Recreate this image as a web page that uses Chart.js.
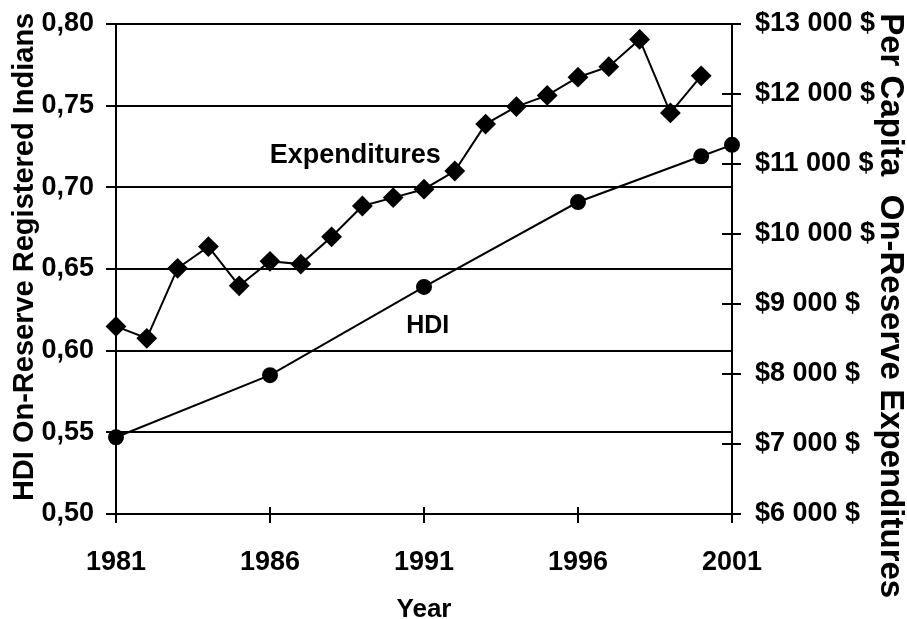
<!DOCTYPE html>
<html>
<head>
<meta charset="utf-8">
<script src="https://cdn.jsdelivr.net/npm/chart.js@4.4.1/dist/chart.umd.min.js"></script>
<style>
  body { margin: 0; background: #fff; }
</style>
</head>
<body>
<canvas id="myChart" width="907" height="619"></canvas>
<script>
// values
const expYears = [1981, 1982, 1983, 1984, 1985, 1986, 1987, 1988, 1989, 1990,
                  1991, 1992, 1993, 1994, 1995, 1996, 1997, 1998, 1999, 2000];
const expValues = [8680, 8510, 9510, 9820, 9260, 9610, 9570, 9960, 10400, 10520,
                   10640, 10900, 11570, 11820, 11980, 12240, 12390, 12780, 11730, 12260];
const hdiYears = [1981, 1986, 1991, 1996, 2000, 2001];
const hdiValues = [0.547, 0.585, 0.639, 0.691, 0.719, 0.726];

const yearTicks = [1981, 1986, 1991, 1996, 2001];
const hdiTicks = [0.50, 0.55, 0.60, 0.65, 0.70, 0.75, 0.80];
const dollarTicks = [6000, 7000, 8000, 9000, 10000, 11000, 12000, 13000];

// in-plot text labels (year, HDI value of the baseline)
const notes = [
    {text: "Expenditures", x: 1988.77, y: 0.715, size: 27},
    {text: "HDI", x: 1991.12, y: 0.611, size: 25}
];

Chart.defaults.font.family = "'Liberation Sans', Arial, sans-serif";
Chart.defaults.color = "#000";

function money(v) {
    const s = String(v);
    return "$" + s.slice(0, -3) + " " + s.slice(-3) + " $";
}

// fixed axis width, no extra padding from the end labels
function noPad(s, w) {
    s.width = w;
    s.paddingTop = 0;
    s.paddingBottom = 0;
}

// inner halves of the crossing tick marks + text labels in the plot
const extras = {
    id: "extras",
    afterDatasetsDraw(chart) {
        const ctx = chart.ctx;
        const x = chart.scales.x, y = chart.scales.y, y2 = chart.scales.y2;
        ctx.save();
        ctx.strokeStyle = "#000";
        ctx.lineWidth = 2;
        ctx.beginPath();
        yearTicks.forEach(v => {
            const px = x.getPixelForValue(v);
            ctx.moveTo(px, x.top);
            ctx.lineTo(px, x.top - 7);
        });
        dollarTicks.forEach(v => {
            const py = y2.getPixelForValue(v);
            ctx.moveTo(y2.left, py);
            ctx.lineTo(y2.left - 10, py);
        });
        ctx.stroke();

        ctx.fillStyle = "#000";
        ctx.textAlign = "center";
        ctx.textBaseline = "alphabetic";
        notes.forEach(n => {
            ctx.font = "bold " + n.size + "px 'Liberation Sans', Arial, sans-serif";
            ctx.fillText(n.text, x.getPixelForValue(n.x), y.getPixelForValue(n.y));
        });
        ctx.restore();
    }
};

new Chart(document.getElementById("myChart").getContext("2d"), {
    type: "line",
    data: {
        datasets: [
            {
                label: "Expenditures",
                yAxisID: "y2",
                data: expYears.map((yr, i) => ({x: yr, y: expValues[i]})),
                borderColor: "#000",
                borderWidth: 2,
                pointStyle: "rectRot",
                pointRadius: 9,
                pointBackgroundColor: "#000",
                pointBorderColor: "#000",
                tension: 0,
                clip: false
            },
            {
                label: "HDI",
                yAxisID: "y",
                data: hdiYears.map((yr, i) => ({x: yr, y: hdiValues[i]})),
                borderColor: "#000",
                borderWidth: 2,
                pointStyle: "circle",
                pointRadius: 7,
                pointBackgroundColor: "#000",
                pointBorderColor: "#000",
                tension: 0,
                clip: false
            }
        ]
    },
    options: {
        responsive: false,
        animation: false,
        layout: {autoPadding: false, padding: {top: 24}},
        plugins: {legend: {display: false}, tooltip: {enabled: false}},
        scales: {
            x: {
                type: "linear",
                min: 1981,
                max: 2001,
                afterBuildTicks: s => { s.ticks = yearTicks.map(v => ({value: v})); },
                afterFit: s => { s.height = 105; },
                grid: {drawOnChartArea: false, color: "#000", lineWidth: 2, tickLength: 9},
                border: {color: "#000", width: 2},
                ticks: {font: {size: 27, weight: "bold"}, padding: 23, maxRotation: 0,
                        callback: v => String(v)},
                title: {display: true, text: "Year", font: {size: 26, weight: "bold", lineHeight: 0.7},
                        padding: {top: 0, bottom: 0}}
            },
            y: {
                position: "left",
                min: 0.5,
                max: 0.8,
                afterBuildTicks: s => { s.ticks = hdiTicks.map(v => ({value: v})); },
                afterFit: s => noPad(s, 116),
                grid: {color: "#000", lineWidth: 2, tickLength: 10},
                border: {color: "#000", width: 2},
                ticks: {font: {size: 27, weight: "bold"}, padding: 12,
                        callback: v => v.toFixed(2).replace(".", ",")},
                title: {display: true, text: "   HDI On-Reserve Registered Indians",
                        font: {size: 29, weight: "bold", lineHeight: 1}, padding: {top: 10, bottom: 0}}
            },
            y2: {
                position: "right",
                min: 6000,
                max: 13000,
                afterBuildTicks: s => { s.ticks = dollarTicks.map(v => ({value: v})); },
                afterFit: s => noPad(s, 175),
                grid: {drawOnChartArea: false, color: "#000", lineWidth: 2, tickLength: 9},
                border: {color: "#000", width: 2},
                ticks: {font: {size: 27, weight: "bold"}, padding: 14, callback: v => money(v)},
                title: {display: true, text: "        Per Capita  On-Reserve Expenditures",
                        font: {size: 33, weight: "bold", lineHeight: 1}, padding: {top: 0, bottom: 0}}
            }
        }
    },
    plugins: [extras]
});
</script>
</body>
</html>
